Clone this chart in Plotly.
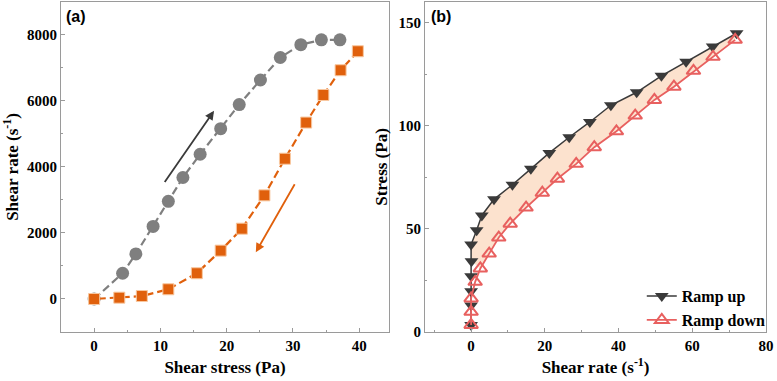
import plotly.graph_objects as go

# (a) shear stress vs shear rate loop
up_stress = [0, 4.3, 6.3, 8.9, 11.2, 13.4, 16.0, 19.1, 21.9, 25.1, 28.1, 31.2, 34.3, 37.1]
up_rate = [0, 780, 1365, 2200, 2960, 3680, 4385, 5160, 5890, 6635, 7315, 7705, 7850, 7850]
down_stress = [39.8, 37.2, 34.6, 32.0, 28.8, 25.7, 22.3, 19.1, 15.5, 11.2, 7.2, 3.8, 0]
down_rate = [7505, 6930, 6180, 5345, 4250, 3140, 2130, 1465, 780, 295, 90, 40, 0]
# arrows (tail, head)
arrow_up = [(10.5, 3500), (18.1, 5700)]
arrow_down = [(30.4, 3520), (24.4, 1415)]

# (b) stress vs shear rate, ramp up / ramp down
ramp_up_rate = [0, 0, 0, 0, 0.1, 0, 1.5, 2.9, 6.2, 11.2, 16.2, 21.2, 26.6, 32.2,
                37.9, 44.9, 51.6, 58.3, 65.5, 72.0]
ramp_up_stress = [3.4, 12.8, 19.7, 27.0, 34.3, 42.4, 49.3, 56.5, 64.3, 71.4, 79.1,
                  86.8, 94.4, 101.8, 109.9, 116.2, 124.2, 131.0, 138.4, 144.8]
ramp_down_rate = [71.6, 65.6, 60.3, 55.0, 49.7, 44.5, 39.4, 33.4, 28.5, 23.4, 19.3,
                  14.9, 10.6, 7.5, 4.9, 2.5, 1.1, 0, 0, 0]
ramp_down_stress = [141.6, 133.4, 126.6, 118.9, 112.5, 104.9, 97.3, 89.6, 81.5, 74.3,
                    67.5, 60.3, 52.5, 45.8, 38.0, 30.8, 24.3, 16.3, 9.8, 3.4]

# tick values
ticks_a_x = [0, 10, 20, 30, 40]
ticks_a_y = [0, 2000, 4000, 6000, 8000]
ticks_b_x = [0, 20, 40, 60, 80]
ticks_b_y = [0, 50, 100, 150]

GRAY = "#7f7f7f"
ORANGE = "#e0600c"
DARK = "#3a3a3a"
RED = "#e8605f"
FILL = "rgba(250,210,180,0.65)"
SERIF = "Times New Roman"


def bold(vals):
    return [f"<b>{v}</b>" for v in vals]


fig = go.Figure()

fig.add_trace(go.Scatter(
    x=up_stress, y=up_rate, mode="lines+markers", showlegend=False,
    line=dict(color=GRAY, width=2.2, dash="8px,4px"),
    marker=dict(symbol="circle", size=13, color=GRAY),
    xaxis="x", yaxis="y"))
fig.add_trace(go.Scatter(
    x=down_stress, y=down_rate, mode="lines+markers", showlegend=False,
    line=dict(color=ORANGE, width=2.2, dash="8px,4px"),
    marker=dict(symbol="square", size=11, color=ORANGE,
                line=dict(color="#f8c8a0", width=1)),
    xaxis="x", yaxis="y"))

# shaded hysteresis area between the two ramps
fill_x = ramp_up_rate[4:] + ramp_down_rate[:16]
fill_y = ramp_up_stress[4:] + ramp_down_stress[:16]
fig.add_trace(go.Scatter(
    x=fill_x, y=fill_y, mode="lines", fill="toself", fillcolor=FILL,
    line=dict(width=0), showlegend=False, hoverinfo="skip",
    xaxis="x2", yaxis="y2"))

fig.add_trace(go.Scatter(
    x=ramp_up_rate, y=ramp_up_stress, mode="lines+markers", name="<b>Ramp up</b>",
    line=dict(color=DARK, width=1.5),
    marker=dict(symbol="triangle-down", size=12, color=DARK),
    xaxis="x2", yaxis="y2"))
fig.add_trace(go.Scatter(
    x=ramp_down_rate, y=ramp_down_stress, mode="lines+markers", name="<b>Ramp down</b>",
    line=dict(color=RED, width=1.8),
    marker=dict(symbol="triangle-up-open", size=12, color=RED,
                line=dict(width=2)),
    xaxis="x2", yaxis="y2"))

tickfont = dict(family=SERIF, size=15, color="black")
titlefont = dict(family=SERIF, size=17, color="black")
axis_common = dict(showline=True, mirror=True, linecolor="#9a9a9a", linewidth=1,
                   ticks="inside", ticklen=4, tickcolor="#9a9a9a", automargin=False,
                   showgrid=False, zeroline=False, tickfont=tickfont)

fig.update_layout(
    width=777, height=381,
    margin=dict(l=0, r=0, t=0, b=0),
    font=dict(family=SERIF, size=15, color="black"),
    plot_bgcolor="white", paper_bgcolor="white",
    xaxis=dict(domain=[0.0785, 0.5006], range=[-5, 44.5],
               tickvals=ticks_a_x, ticktext=bold(ticks_a_x),
               minor=dict(dtick=5, ticks="inside", ticklen=2, tickcolor="#9a9a9a"),
               title=dict(text="<b>Shear stress (Pa)</b>", font=titlefont, standoff=8),
               **axis_common),
    yaxis=dict(domain=[0.1286, 0.995], range=[-1000, 9000],
               tickvals=ticks_a_y, ticktext=bold(ticks_a_y),
               minor=dict(dtick=1000, ticks="inside", ticklen=2, tickcolor="#9a9a9a"),
               title=dict(text="<b>Shear rate (s<sup>-1</sup>)</b>", font=titlefont, standoff=6),
               **axis_common),
    xaxis2=dict(domain=[0.547, 0.986], range=[-12.5, 80],
                tickvals=ticks_b_x, ticktext=bold(ticks_b_x),
                minor=dict(dtick=10, ticks="inside", ticklen=2, tickcolor="#9a9a9a"),
                title=dict(text="<b>Shear rate (s<sup>-1</sup>)</b>", font=titlefont, standoff=8),
                anchor="y2", **axis_common),
    yaxis2=dict(domain=[0.1286, 0.995], range=[0, 160],
                tickvals=ticks_b_y, ticktext=bold(ticks_b_y),
                minor=dict(dtick=25, ticks="inside", ticklen=2, tickcolor="#9a9a9a"),
                title=dict(text="<b>Stress (Pa)</b>", font=titlefont, standoff=6),
                anchor="x2", **axis_common),
    legend=dict(x=0.992, xanchor="right", y=0.115, yanchor="bottom",
                bgcolor="rgba(0,0,0,0)", itemwidth=30, tracegroupgap=0,
                font=dict(family=SERIF, size=16, color="black")),
)

for (tail, head), col in [(arrow_up, DARK), (arrow_down, ORANGE)]:
    fig.add_annotation(x=head[0], y=head[1], ax=tail[0], ay=tail[1],
                       xref="x", yref="y", axref="x", ayref="y",
                       showarrow=True, arrowhead=2, arrowsize=1,
                       arrowwidth=1.8, arrowcolor=col, text="")

fig.add_annotation(text="<b>(a)</b>", xref="paper", yref="paper", x=0.083, y=0.985,
                   xanchor="left", yanchor="top", showarrow=False,
                   font=dict(family="Arial", size=16, color="black"))
fig.add_annotation(text="<b>(b)</b>", xref="paper", yref="paper", x=0.552, y=0.985,
                   xanchor="left", yanchor="top", showarrow=False,
                   font=dict(family="Arial", size=16, color="black"))

fig.write_html("out.html", config={"displayModeBar": False},
               post_script="document.body.style.margin='0px';")
